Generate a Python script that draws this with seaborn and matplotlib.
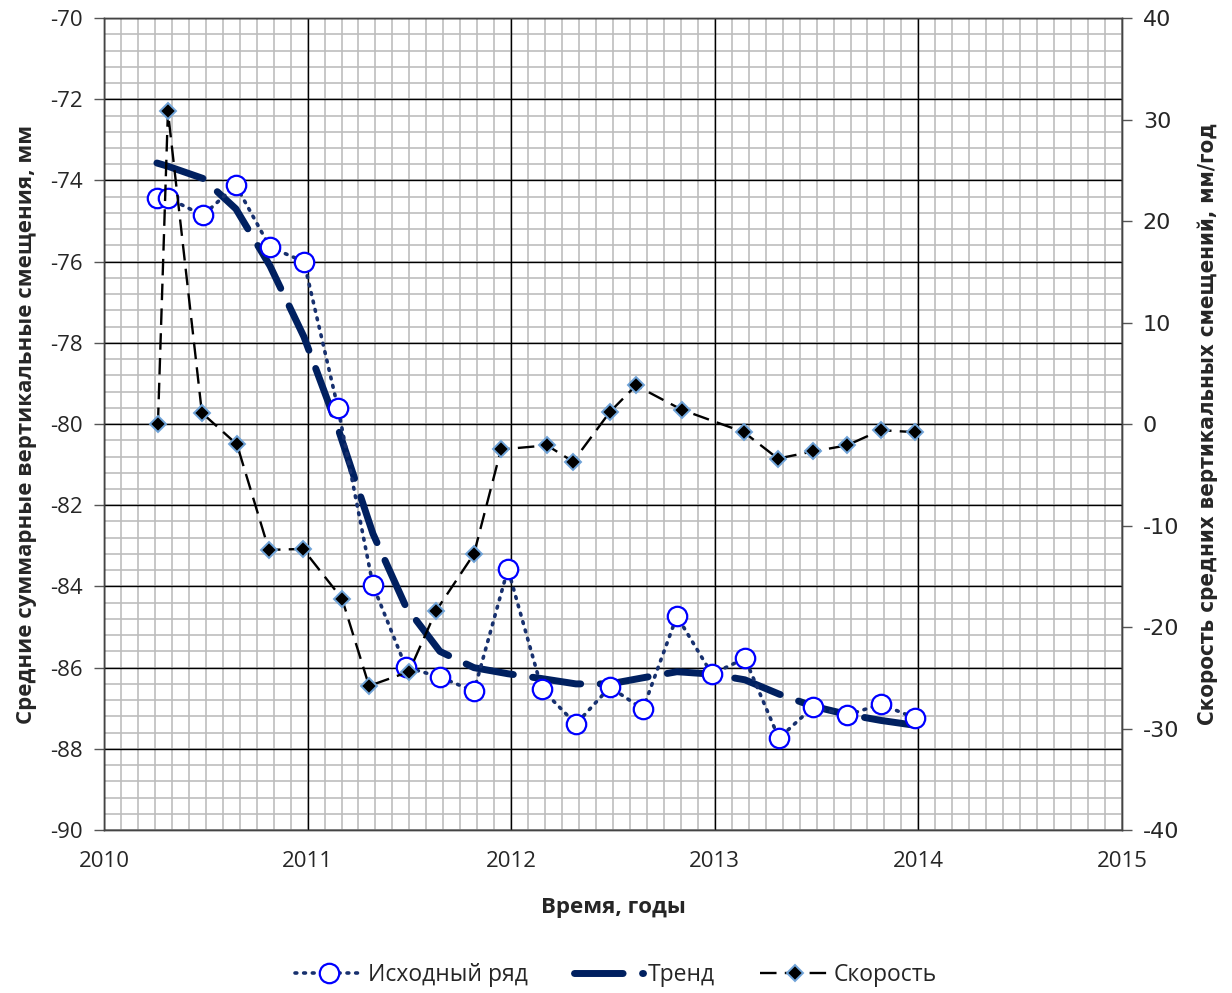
import numpy as np
import seaborn as sns
import matplotlib
matplotlib.use("Agg")
import matplotlib.pyplot as plt
from matplotlib.ticker import MultipleLocator, FixedLocator

# исходный ряд (левая ось, мм)
t_orig = [2010.260, 2010.314, 2010.486, 2010.648, 2010.815, 2010.982, 2011.149, 2011.321,
          2011.483, 2011.650, 2011.817, 2011.984, 2012.151, 2012.318, 2012.485, 2012.647,
          2012.814, 2012.986, 2013.148, 2013.315, 2013.482, 2013.649, 2013.816, 2013.983]
orig = [-74.43, -74.43, -74.86, -74.12, -75.64, -76.00, -79.60, -83.97,
        -85.99, -86.23, -86.58, -83.57, -86.53, -87.39, -86.48, -87.02,
        -84.73, -86.16, -85.77, -87.74, -86.97, -87.17, -86.90, -87.24]

# тренд (левая ось, мм)
trend = [-73.57, -73.65, -73.95, -74.70, -76.10, -77.85, -80.10, -82.70,
         -84.50, -85.60, -86.00, -86.15, -86.27, -86.40, -86.40, -86.25,
         -86.10, -86.16, -86.30, -86.65, -86.95, -87.15, -87.30, -87.42]

# скорость (правая ось, мм/год)
t_vel = [2010.265, 2010.314, 2010.481, 2010.653, 2010.810, 2010.977, 2011.169, 2011.302,
         2011.498, 2011.631, 2011.817, 2011.950, 2012.176, 2012.304, 2012.485, 2012.613,
         2012.839, 2013.143, 2013.310, 2013.482, 2013.649, 2013.816, 2013.983]
vel = [0.0, 30.8, 1.1, -2.0, -12.4, -12.3, -17.2, -25.8,
       -24.4, -18.4, -12.8, -2.5, -2.1, -3.7, 1.2, 3.8,
       1.4, -0.8, -3.4, -2.7, -2.1, -0.6, -0.8]

years = [2010, 2011, 2012, 2013, 2014, 2015]

sns.set_style("white")
plt.rcParams['font.family'] = ['Open Sans', 'DejaVu Sans']
plt.rcParams['axes.unicode_minus'] = False

rect = [0.0844, 0.1641, 0.8263, 0.8177]
fig = plt.figure(figsize=(12.32, 9.93), dpi=100)

# back layer: thin grey grid (month / 0.4 mm)
axg = fig.add_axes(rect, zorder=-1)
axg.set_xlim(2010, 2015)
axg.set_ylim(-90, -70)
axg.xaxis.set_major_locator(FixedLocator([2010 + i / 12 for i in range(61)]))
axg.yaxis.set_major_locator(FixedLocator([-90 + i * 0.4 for i in range(51)]))
axg.grid(True, color='#BDBDBD', lw=1.2)
axg.tick_params(length=0, labelbottom=False, labelleft=False)
for sp in axg.spines.values():
    sp.set_visible(False)

ax = fig.add_axes(rect)
ax.patch.set_visible(False)
ax2 = ax.twinx()

sns.lineplot(x=t_orig, y=trend, ax=ax, color='#002060', lw=5, sort=False,
             label='Тренд', legend=False, zorder=3)
ax.lines[-1].set_dashes([7, 2.8])
ax.lines[-1].set_dash_capstyle('round')

sns.lineplot(x=t_orig, y=orig, ax=ax, color='#17306E', lw=2.6, sort=False,
             marker='o', markersize=14, markerfacecolor='white',
             markeredgecolor='#0000FF', markeredgewidth=1.6,
             label='Исходный ряд', legend=False, zorder=4)
ax.lines[-1].set_linestyle((0, (0.5, 1.9)))
ax.lines[-1].set_dash_capstyle('round')

sns.lineplot(x=t_vel, y=vel, ax=ax2, color='black', lw=1.7, sort=False,
             marker='D', markersize=8.5, markerfacecolor='black',
             markeredgecolor='#6FA3D8', markeredgewidth=1.4,
             label='Скорость', legend=False, zorder=5)
ax2.lines[-1].set_linestyle((0, (7, 3.5)))

ax.set_xlim(2010, 2015)
ax.set_ylim(-90, -70)
ax2.set_ylim(-40, 40)

ax.xaxis.set_major_locator(FixedLocator(years))
ax.yaxis.set_major_locator(MultipleLocator(2))
ax2.yaxis.set_major_locator(MultipleLocator(10))

ax.set_axisbelow(True)
ax.grid(which='major', color='black', lw=1.0)
ax2.grid(False)

ax.tick_params(which='major', direction='out', length=7, width=1, color='#555555',
               labelsize=16, pad=8)
ax2.tick_params(which='major', direction='out', length=7, width=1, color='#555555',
                labelsize=16, pad=8)
for lab in ax2.get_yticklabels():
    lab.set_family(['DejaVu Sans'])
ax.set_xticklabels([str(y) for y in years])

for sp in ['left', 'bottom', 'right', 'top']:
    for a in (ax, ax2):
        a.spines[sp].set_color('#444444')
        a.spines[sp].set_linewidth(1)

ax.set_xlabel('Время, годы', fontsize=16, fontweight='bold', labelpad=18)
ax.set_ylabel('Средние суммарные вертикальные смещения, мм', fontsize=16,
              fontweight='bold', labelpad=10)
ax2.set_ylabel('Скорость средних вертикальных смещений, мм/год', fontsize=16,
               fontweight='bold', labelpad=13, family='DejaVu Sans',
               fontstretch='condensed')

h1, l1 = ax.get_legend_handles_labels()
h2, l2 = ax2.get_legend_handles_labels()
handles = [h1[1], h1[0], h2[0]]
labels = [l1[1], l1[0], l2[0]]
fig.legend(handles, labels, loc='center', bbox_to_anchor=(0.5, 0.018), ncol=3,
           frameon=False, fontsize=16.5, handlelength=3.0, columnspacing=2.0,
           handletextpad=0.2)

fig.savefig('out.png', dpi=100)
